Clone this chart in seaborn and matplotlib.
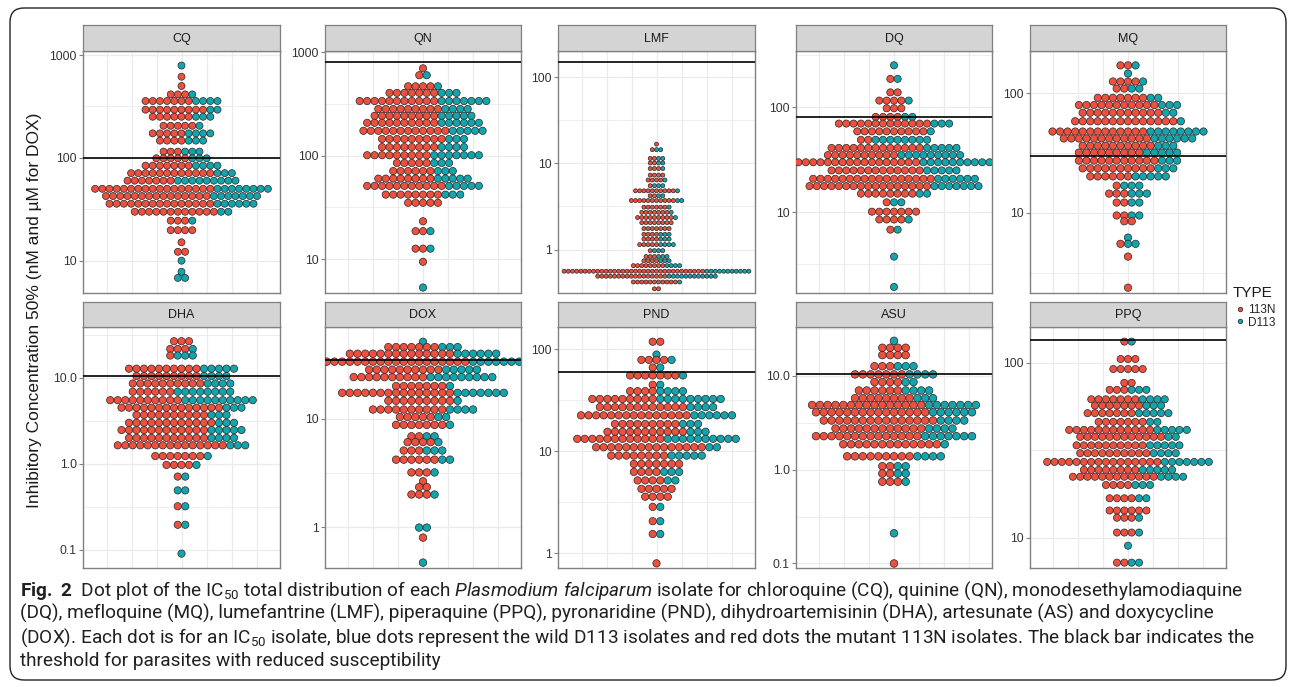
import numpy as np
import pandas as pd
import matplotlib
matplotlib.use("Agg")
import matplotlib.pyplot as plt
from matplotlib.patches import FancyBboxPatch
from matplotlib.ticker import NullFormatter
import seaborn as sns

# IC50 bin values (nM, uM for DOX) with number of 113N / D113 isolates per bin
CQ_IC50 = [790, 615, 500, 414, 357, 294, 251, 205, 173, 147, 115, 99, 84, 71, 60, 50, 42.5, 35.8, 29.9, 24.5, 19.8, 15.1, 12.2, 10.0, 7.8, 6.8]
CQ_113N = [0, 1, 1, 3, 7, 9, 6, 5, 5, 4, 3, 5, 7, 12, 7, 17, 15, 15, 12, 3, 4, 1, 2, 0, 0, 0]
CQ_D113 = [1, 0, 0, 1, 4, 2, 3, 1, 4, 3, 3, 3, 4, 3, 9, 8, 7, 6, 2, 1, 0, 0, 0, 1, 1, 2]

QN_IC50 = [700, 600, 469, 405, 338, 283, 243, 208, 174, 145, 121, 101, 85, 71, 60, 51, 42, 35, 23.2, 18.6, 12.6, 9.4, 5.3]
QN_113N = [1, 1, 4, 7, 11, 9, 9, 10, 12, 9, 8, 9, 5, 6, 8, 11, 8, 5, 1, 2, 2, 1, 0]
QN_D113 = [0, 1, 1, 3, 7, 4, 5, 6, 5, 3, 4, 7, 3, 3, 5, 5, 3, 0, 0, 1, 1, 0, 1]

LMF_IC50 = [16.7, 14.4, 11.4, 10.1, 8.7, 7.3, 6.4, 5.5, 4.8, 4.2, 3.7, 3.1, 2.7, 2.35, 2.05, 1.75, 1.5, 1.32, 1.14, 0.97, 0.83, 0.74, 0.65, 0.56, 0.49, 0.42, 0.35]
LMF_113N = [1, 1, 2, 2, 3, 4, 4, 1, 10, 2, 11, 6, 7, 9, 8, 7, 4, 4, 5, 1, 3, 4, 8, 34, 17, 11, 2]
LMF_D113 = [0, 2, 2, 2, 1, 0, 1, 3, 1, 2, 2, 1, 1, 1, 0, 0, 3, 3, 4, 3, 3, 3, 4, 11, 12, 1, 0]

DQ_IC50 = [252, 187, 139, 116, 98, 81, 70, 59, 49, 41, 35, 29.9, 25, 20.8, 17.7, 15, 12.4, 10.1, 8.5, 6.8, 3.76, 1.93]
DQ_113N = [0, 1, 2, 4, 3, 4, 13, 10, 2, 13, 10, 17, 13, 17, 17, 8, 1, 7, 4, 1, 0, 0]
DQ_D113 = [1, 1, 0, 1, 0, 2, 3, 1, 8, 5, 9, 10, 5, 6, 7, 2, 2, 0, 1, 1, 1, 1]

MQ_IC50 = [172, 147, 126, 110, 92, 80, 69, 58.5, 48, 42, 36.5, 32, 27.4, 23.6, 20.2, 16.9, 14.5, 12.2, 9.5, 8.5, 6.2, 5.5, 4.3, 2.36]
MQ_113N = [2, 0, 4, 2, 7, 11, 11, 14, 13, 12, 10, 9, 11, 10, 6, 1, 3, 2, 2, 2, 0, 1, 1, 1]
MQ_D113 = [1, 1, 1, 2, 2, 3, 2, 1, 8, 6, 3, 5, 3, 3, 5, 3, 3, 2, 2, 0, 1, 2, 0, 0]

DHA_IC50 = [26.7, 21.7, 18.2, 12.8, 10.5, 8.6, 6.9, 5.5, 4.5, 3.7, 3.0, 2.47, 2.0, 1.64, 1.23, 0.97, 0.71, 0.49, 0.32, 0.195, 0.09]
DHA_113N = [3, 3, 1, 10, 9, 10, 6, 10, 14, 10, 12, 12, 11, 15, 7, 4, 1, 0, 1, 1, 0]
DHA_D113 = [0, 1, 3, 5, 4, 4, 8, 10, 3, 3, 3, 5, 4, 3, 1, 1, 1, 2, 1, 1, 1]

DOX_IC50 = [51.5, 46, 40, 33.8, 28.5, 24.3, 20.1, 17.4, 14.7, 12.2, 10.4, 8.8, 6.9, 6.1, 5.1, 4.2, 3.2, 2.65, 2.34, 2.0, 0.99, 0.80, 0.47]
DOX_113N = [0, 7, 14, 19, 10, 10, 7, 15, 9, 10, 5, 7, 2, 4, 3, 6, 3, 1, 2, 3, 0, 1, 0]
DOX_D113 = [1, 3, 6, 7, 5, 9, 1, 7, 1, 4, 2, 1, 2, 1, 3, 2, 1, 0, 0, 1, 2, 0, 1]

PND_IC50 = [119, 89, 79, 66.5, 55.6, 45, 39, 32.7, 27.2, 22.6, 18.6, 15.6, 13.3, 11, 9.1, 7.55, 6.3, 5.2, 4.3, 3.6, 2.86, 2.07, 1.55, 0.80]
PND_113N = [2, 0, 4, 1, 7, 1, 4, 9, 12, 15, 9, 11, 12, 15, 8, 7, 4, 4, 5, 4, 1, 1, 1, 1]
PND_D113 = [0, 1, 1, 1, 1, 1, 4, 9, 4, 6, 3, 3, 10, 2, 5, 0, 3, 2, 0, 0, 1, 1, 1, 0]

ASU_IC50 = [23.7, 20, 16.7, 12.7, 10.4, 8.6, 7.0, 5.8, 4.9, 4.1, 3.35, 2.75, 2.28, 1.87, 1.39, 1.09, 0.91, 0.745, 0.21, 0.10]
ASU_113N = [0, 4, 4, 3, 7, 4, 6, 8, 15, 15, 15, 12, 14, 13, 9, 2, 2, 3, 0, 1]
ASU_D113 = [1, 0, 0, 3, 4, 2, 4, 3, 7, 6, 4, 4, 7, 1, 4, 2, 2, 1, 1, 0]

PPQ_IC50 = [132, 105, 92, 76.7, 70, 61.8, 56.9, 51.5, 45.9, 41.3, 37.7, 33.7, 30.4, 27.1, 24.4, 22.3, 20, 16.8, 14.3, 13.0, 10.7, 9.0, 7.2]
PPQ_113N = [1, 3, 5, 2, 3, 7, 7, 7, 7, 12, 12, 10, 10, 16, 8, 12, 4, 4, 6, 3, 3, 0, 2]
PPQ_D113 = [1, 0, 0, 0, 3, 4, 3, 5, 2, 5, 2, 5, 4, 7, 5, 4, 3, 2, 0, 1, 1, 1, 2]

DRUGS = ["CQ", "QN", "LMF", "DQ", "MQ", "DHA", "DOX", "PND", "ASU", "PPQ"]
THRESHOLDS = [100, 800, 150, 80, 30, 10.5, 35, 60, 10.5, 135]
YLIMS = [(4.85, 1094), (4.69, 1030), (0.313, 201), (1.69, 345), (2.13, 227),
         (0.0612, 39.1), (0.419, 70.6), (0.72, 166), (0.0895, 33.3), (6.71, 160)]
YTICKS = [[10, 100, 1000], [10, 100, 1000], [1, 10, 100], [10, 100], [10, 100],
          [0.1, 1, 10], [1, 10], [1, 10, 100], [0.1, 1, 10], [10, 100]]
YTICKLABELS = [["10", "100", "1000"], ["10", "100", "1000"], ["1", "10", "100"],
               ["10", "100"], ["10", "100"], ["0.1", "1.0", "10.0"], ["1", "10"],
               ["1", "10", "100"], ["0.1", "1.0", "10.0"], ["10", "100"]]

DATA = {
    "CQ": (CQ_IC50, CQ_113N, CQ_D113), "QN": (QN_IC50, QN_113N, QN_D113),
    "LMF": (LMF_IC50, LMF_113N, LMF_D113), "DQ": (DQ_IC50, DQ_113N, DQ_D113),
    "MQ": (MQ_IC50, MQ_113N, MQ_D113), "DHA": (DHA_IC50, DHA_113N, DHA_D113),
    "DOX": (DOX_IC50, DOX_113N, DOX_D113), "PND": (PND_IC50, PND_113N, PND_D113),
    "ASU": (ASU_IC50, ASU_113N, ASU_D113), "PPQ": (PPQ_IC50, PPQ_113N, PPQ_D113),
}

# layout in pixels
W, H = 1295, 687
COLS = [(83, 280), (325, 521), (558, 755), (796, 992), (1030, 1226)]
ROWS = [(25, 51, 293), (302, 327, 568)]
DOT_PX = [7.2, 7.45, 4.2, 7.35, 7.55, 7.5, 7.7, 7.55, 7.8, 7.35]
RED, TEAL = "#EF4F3D", "#13A5AD"
GRID = "#EBEBEB"
BORDER = "#808080"
CAP_FONT = "Roboto"


def dot_table(values, n_a, n_b, d):
    # centred stacks: 113N dots on the left, D113 on the right
    rows = []
    for v, a, b in zip(values, n_a, n_b):
        n = a + b
        for i in range(n):
            rows.append({"x": (i - (n - 1) / 2) * d, "ic50": v,
                         "TYPE": "113N" if i < a else "D113"})
    return pd.DataFrame(rows)


def frac(l, t, r, b):
    return [l / W, 1 - b / H, (r - l) / W, (b - t) / H]


sns.set_theme(style="white")
plt.rcParams["font.family"] = ["Liberation Sans", "DejaVu Sans"]
plt.rcParams["mathtext.fontset"] = "custom"
plt.rcParams["mathtext.rm"] = CAP_FONT
plt.rcParams["mathtext.it"] = CAP_FONT + ":italic"
plt.rcParams["mathtext.bf"] = CAP_FONT + ":bold"
plt.rcParams["mathtext.default"] = "regular"

fig = plt.figure(figsize=(W / 100, H / 100), dpi=100)
canvas = fig.add_axes([0, 0, 1, 1], zorder=-1)
canvas.set_xlim(0, W)
canvas.set_ylim(H, 0)
canvas.axis("off")

handles, labels = None, None
for k, drug in enumerate(DRUGS):
    (l, r) = COLS[k % 5]
    (st, pt, pb) = ROWS[k // 5]
    ax = fig.add_axes(frac(l, pt, r, pb))
    sax = fig.add_axes(frac(l, st, r, pt))
    width = r - l
    d = DOT_PX[k]
    vals, na, nb = DATA[drug]
    df = dot_table(vals, na, nb, d)

    ax.set_yscale("log")
    size = (d * 0.72 - 0.15) ** 2
    sns.scatterplot(data=df, x="x", y="ic50", hue="TYPE", hue_order=["113N", "D113"],
                    palette=[RED, TEAL], s=size, edgecolor="#262626", linewidth=0.5,
                    ax=ax, legend=(k == 0), zorder=3)
    if k == 0:
        handles, labels = ax.get_legend_handles_labels()
        ax.get_legend().remove()
    ax.axhline(THRESHOLDS[k], color="black", lw=1.2, zorder=4)

    lo, hi = YLIMS[k]
    ax.set_ylim(lo, hi)
    ax.set_xlim(-width / 2, width / 2)
    ax.set_yticks(YTICKS[k], YTICKLABELS[k])
    minors = [10 ** (e + 0.5) for e in range(-3, 4) if lo < 10 ** (e + 0.5) < hi]
    ax.set_yticks(minors, minor=True)
    ax.yaxis.set_minor_formatter(NullFormatter())
    ax.set_xticks([-75, -50, -25, 0, 25, 50, 75])
    ax.set_xticklabels([])
    ax.grid(True, which="major", color=GRID, lw=0.9, zorder=0)
    ax.grid(True, which="minor", axis="y", color=GRID, lw=0.6, zorder=0)
    ax.set_axisbelow(True)
    ax.tick_params(axis="x", length=0)
    ax.tick_params(axis="y", which="major", length=3, width=0.8, color=BORDER,
                   labelsize=8.8, labelcolor="#333333", pad=1.5, left=True)
    ax.tick_params(axis="y", which="minor", length=0)
    ax.set_xlabel("")
    ax.set_ylabel("")
    for sp in ax.spines.values():
        sp.set_color(BORDER)
        sp.set_linewidth(1.0)

    sax.set_facecolor("#D4D4D4")
    sax.set_xticks([])
    sax.set_yticks([])
    for sp in sax.spines.values():
        sp.set_color(BORDER)
        sp.set_linewidth(0.9)
    sax.text(0.5, 0.48, drug, ha="center", va="center", fontsize=9,
             color="#1A1A1A", transform=sax.transAxes)

# legend: title drawn as text, entries from the seaborn handles
canvas.text(1233, 293, "TYPE", ha="left", va="center", fontsize=11, color="#1A1A1A")
leg = fig.legend(handles, labels, loc="upper left",
                 bbox_to_anchor=(1234 / W, 1 - 304 / H), frameon=False,
                 fontsize=8.5, handletextpad=0.15, labelspacing=0.05,
                 borderpad=0, borderaxespad=0, handlelength=1.0, markerscale=0.65)

canvas.text(35, 310, "Inhibitory Concentration 50% (nM and \u00b5M for DOX)",
            rotation=90, ha="center", va="center", fontsize=12.5, color="#1A1A1A")

box = FancyBboxPatch((10, 8), 1276, 672, boxstyle="round,pad=0,rounding_size=14",
                     fill=False, ec="#222222", lw=1.0)
canvas.add_patch(box)

caption = [
    r"$\bf{Fig.\ 2}$  Dot plot of the IC$_{50}$ total distribution of each $\it{Plasmodium\ falciparum}$ isolate for chloroquine (CQ), quinine (QN), monodesethylamodiaquine",
    "(DQ), mefloquine (MQ), lumefantrine (LMF), piperaquine (PPQ), pyronaridine (PND), dihydroartemisinin (DHA), artesunate (AS) and doxycycline",
    r"(DOX). Each dot is for an IC$_{50}$ isolate, blue dots represent the wild D113 isolates and red dots the mutant 113N isolates. The black bar indicates the",
    "threshold for parasites with reduced susceptibility",
]
cap_texts = []
for i, line in enumerate(caption):
    cap_texts.append(canvas.text(20, 596 + 23.2 * i, line, ha="left", va="baseline",
                                 fontsize=13, family=[CAP_FONT, "DejaVu Sans"],
                                 color="#231F20"))

# fit the third caption line to the width it takes in the reference (20..1252 px)
renderer = fig.canvas.get_renderer()
w3 = cap_texts[2].get_window_extent(renderer).width
scale = 1232 / w3
for t in cap_texts:
    t.set_fontsize(13 * scale)

fig.savefig("out.png", dpi=100)
